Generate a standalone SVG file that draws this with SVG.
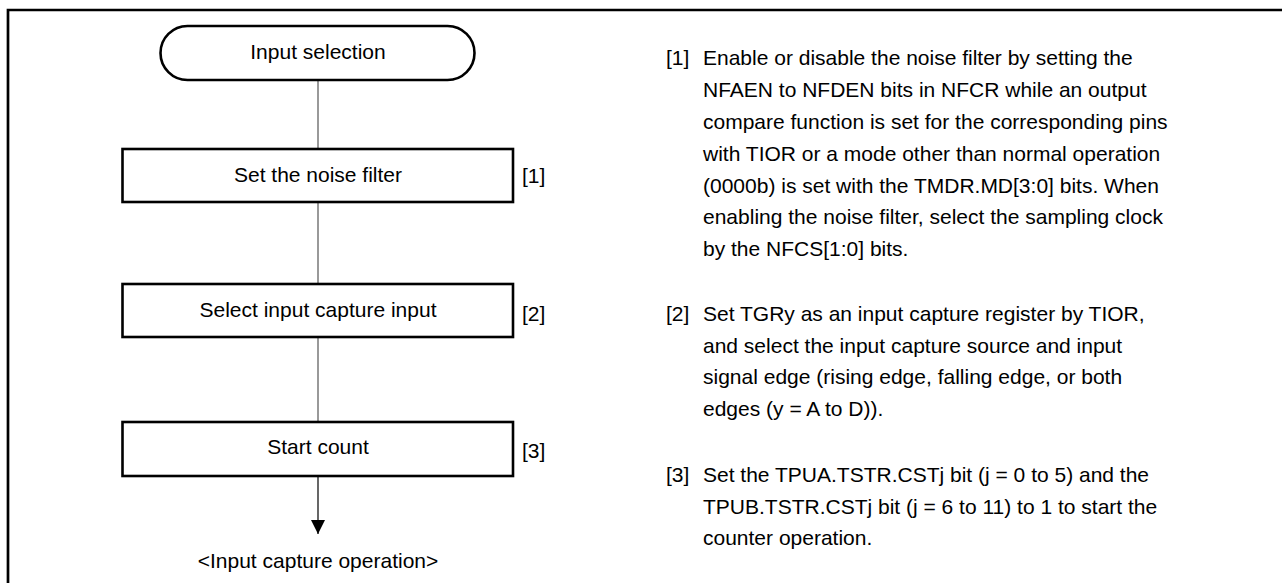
<svg xmlns="http://www.w3.org/2000/svg" width="1282" height="583" viewBox="0 0 1282 583">
<style>
text{font-family:"Liberation Sans",Arial,sans-serif;font-size:21px;fill:#000}
.c{text-anchor:middle}
.box{fill:#fff;stroke:#000;stroke-width:2.6}
.conn{stroke:#555;stroke-width:1.2;fill:none}
</style>
<defs>
<marker id="ah" markerWidth="14" markerHeight="14" refX="14" refY="7" orient="auto" markerUnits="userSpaceOnUse" viewBox="0 0 14 14">
<path d="M0,0 L14,7 L0,14 Z" fill="#000"/>
</marker>
</defs>
<rect width="1282" height="583" fill="#fff"/>
<g id="frame">
<path d="M8,583 L8,10 L1282,10" fill="none" stroke="#000" stroke-width="2.7"/>
</g>
<g id="connectors">
<line class="conn" x1="318" y1="80" x2="318" y2="149"/>
<line class="conn" x1="318" y1="202" x2="318" y2="284"/>
<line class="conn" x1="318" y1="337" x2="318" y2="422"/>
<line class="conn" x1="318" y1="476" x2="318" y2="534" style="stroke:#000" marker-end="url(#ah)"/>
</g>
<g id="start">
<rect class="box" x="160.5" y="26" width="314" height="54" rx="27" ry="27"/>
<text class="c" x="318" y="58.5">Input selection</text>
</g>
<g id="step1">
<rect class="box" x="122.5" y="149" width="390.5" height="53"/>
<text class="c" x="318" y="182">Set the noise filter</text>
<text x="522" y="183">[1]</text>
</g>
<g id="step2">
<rect class="box" x="122.5" y="284" width="390.5" height="53"/>
<text class="c" x="318" y="316.5">Select input capture input</text>
<text x="522" y="320.5">[2]</text>
</g>
<g id="step3">
<rect class="box" x="122.5" y="422" width="390.5" height="54"/>
<text class="c" x="318" y="454">Start count</text>
<text x="522" y="458">[3]</text>
</g>
<g id="end">
<text class="c" x="318" y="568">&lt;Input capture operation&gt;</text>
</g>
<g id="notes">
<text x="666" y="65">[1]</text>
<text x="703" y="65">Enable or disable the noise filter by setting the</text>
<text x="703" y="97">NFAEN to NFDEN bits in NFCR while an output</text>
<text x="703" y="129">compare function is set for the corresponding pins</text>
<text x="703" y="161">with TIOR or a mode other than normal operation</text>
<text x="703" y="193">(0000b) is set with the TMDR.MD[3:0] bits. When</text>
<text x="703" y="224">enabling the noise filter, select the sampling clock</text>
<text x="703" y="256">by the NFCS[1:0] bits.</text>
<text x="666" y="321">[2]</text>
<text x="703" y="321">Set TGRy as an input capture register by TIOR,</text>
<text x="703" y="353">and select the input capture source and input</text>
<text x="703" y="384">signal edge (rising edge, falling edge, or both</text>
<text x="703" y="416">edges (y = A to D)).</text>
<text x="666" y="482">[3]</text>
<text x="703" y="482">Set the TPUA.TSTR.CSTj bit (j = 0 to 5) and the</text>
<text x="703" y="514">TPUB.TSTR.CSTj bit (j = 6 to 11) to 1 to start the</text>
<text x="703" y="545">counter operation.</text>
</g>
</svg>
